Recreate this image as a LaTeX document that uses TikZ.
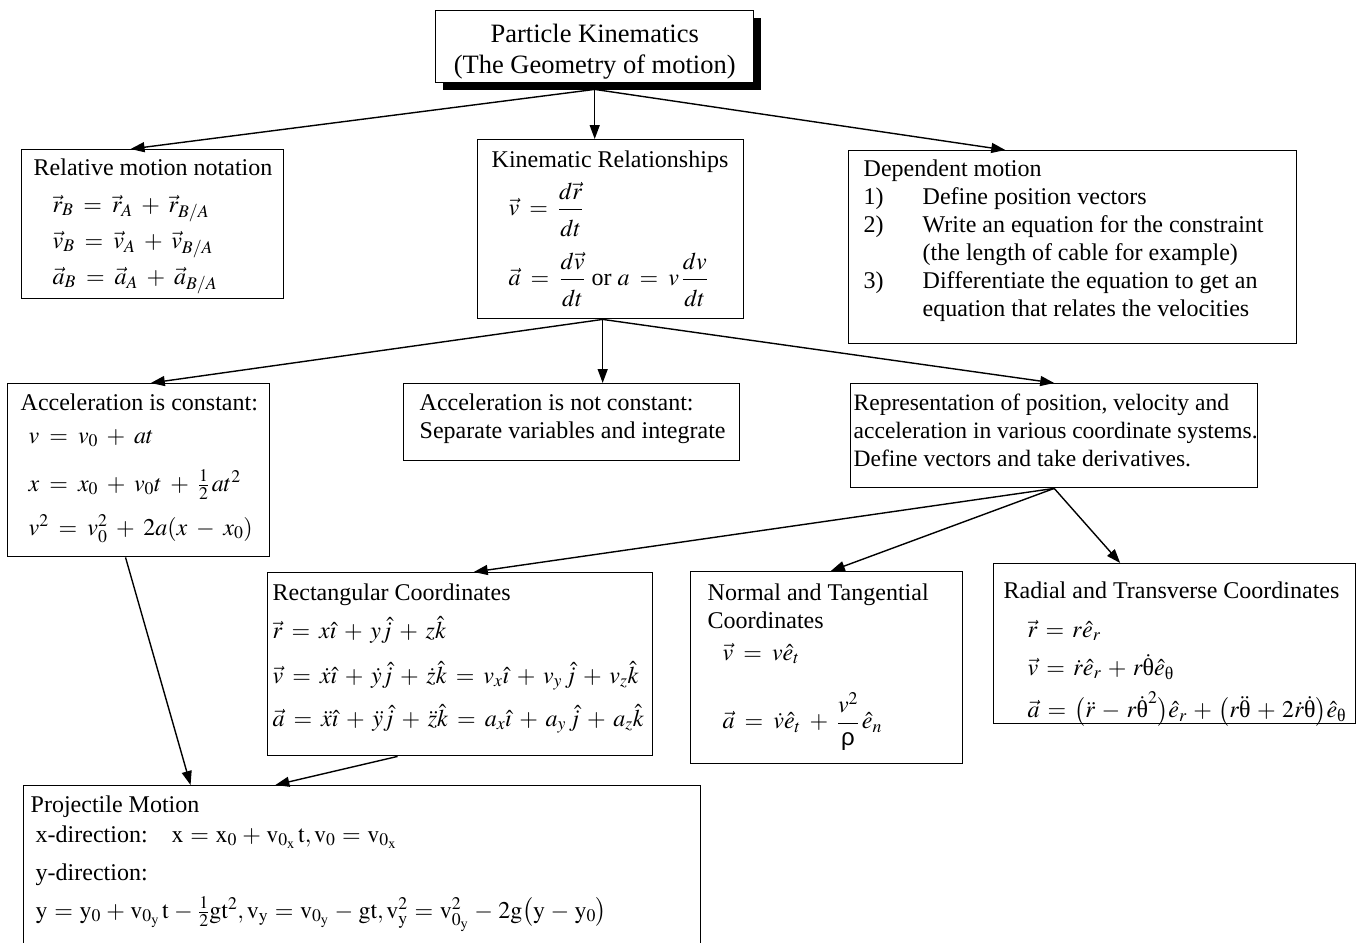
\documentclass[tikz,border=0pt]{standalone}
\usepackage{amsmath}
\usepackage{mathptmx}
\usepackage[no-math]{fontspec}
\setmainfont{Liberation Serif}
\newfontfamily\sansgr{Liberation Sans}
\usetikzlibrary{arrows.meta,calc,shadows}
\newcommand\uth{\text{θ}}
\newcommand\rhos{\text{\sansgr ρ}}
\newcommand\hj{\hat{j}}
\newcommand\ff[2]{\dfrac{#1}{\rule{0pt}{23pt}#2}}
\newcommand\tightmath{\medmuskip=5.7mu plus 2mu minus 4mu\thickmuskip=6.7mu plus 5mu}
\newcommand\tightermath{\medmuskip=4.8mu plus 2mu minus 4mu\thickmuskip=6mu plus 5mu}
\newcommand\bx[4]{\begin{minipage}[t][#2pt][t]{#1pt}\setlength\parindent{0pt}\fontsize{24}{28}\selectfont\medmuskip=6.5mu plus 2mu minus 4mu\thickmuskip=7.5mu plus 5mu\vspace*{#3pt}#4\end{minipage}}
\tikzset{
  box/.style={draw, line width=1.4pt, inner sep=0pt, anchor=north west, fill=white},
  arr/.style={line width=1.4pt, -{Triangle[length=14pt,width=10pt]}},
}
\begin{document}
\begin{tikzpicture}[x=1pt,y=-1pt]
\useasboundingbox (0,0) rectangle (1361,943);
\clip (0,0) rectangle (1361,943);
% top
\node[box, drop shadow={shadow xshift=7pt, shadow yshift=-7pt, fill=black, opacity=1}] (top) at (435,10)
 {\begin{minipage}[t][72pt][t]{318pt}\centering\fontsize{26.5}{31}\selectfont\vspace*{13pt}Particle Kinematics\\(The Geometry of motion)\end{minipage}};
% relative
\node[box] (rel) at (21,149) {\bx{262}{149}{9}{\hspace*{12pt}Relative motion notation\\[9pt]
 \hspace*{31pt}$\vec r_B = \vec r_A + \vec r_{B/A}$\\[8pt]
 \hspace*{31pt}$\vec v_B = \vec v_A + \vec v_{B/A}$\\[8pt]
 \hspace*{31pt}$\vec a_B = \vec a_A + \vec a_{B/A}$}};
% kinematic
\node[box] (kin) at (477,139) {\bx{266}{179}{11}{\hspace*{14pt}Kinematic Relationships\\[9pt]
 \hspace*{31pt}$\vec v = \ff{d\vec r}{dt}$\\[15pt]
 \hspace*{31pt}$\vec a = \ff{d\vec v}{dt}$ or $a = v\,\ff{dv}{dt}$}};
% dependent
\node[box] (dep) at (848,150) {\bx{448}{193}{9}{\hspace*{15pt}Dependent motion\\
 \hspace*{15pt}\makebox[59pt][l]{1)}Define position vectors\\
 \hspace*{15pt}\makebox[59pt][l]{2)}Write an equation for the constraint\\
 \hspace*{15pt}\makebox[59pt][l]{}(the length of cable for example)\\
 \hspace*{15pt}\makebox[59pt][l]{3)}Differentiate the equation to get an\\
 \hspace*{15pt}\makebox[59pt][l]{}equation that relates the velocities}};
% acceleration constant
\node[box] (acc) at (7,383) {\bx{262}{173}{10}{\hspace*{13pt}Acceleration is constant:\\[5pt]
 \hspace*{21pt}$v = v_0 + at$\\[20pt]
 \hspace*{21pt}$x = x_0 + v_0t + \tfrac{1}{2}\,at^2$\\[14pt]
 \hspace*{21pt}$v^2 = v_0^2 + 2a(x - x_0)$}};
% not constant
\node[box] (nac) at (403,383) {\bx{336}{77}{10}{\hspace*{16pt}Acceleration is not constant:\\
 \hspace*{16pt}Separate variables and integrate}};
% representation
\node[box] (rep) at (850,383) {\bx{407}{104}{10}{\fontsize{23.5}{28}\selectfont\hspace*{3pt}\mbox{Representation of position, velocity and}\\
 \hspace*{3pt}\mbox{acceleration in various coordinate systems.}\\
 \hspace*{3pt}\mbox{Define vectors and take derivatives.}}};
% rectangular
\node[box] (rect) at (267,572) {\bx{385}{183}{11}{\tightmath\hspace*{5pt}Rectangular Coordinates\\[10pt]
 \hspace*{5pt}$\vec r = x\hat\imath + y\hj + z\hat k$\\[17pt]
 \hspace*{5pt}$\vec v = \dot x\hat\imath + \dot y\hj + \dot z\hat k = v_x\hat\imath + v_y\,\hj + v_z\hat k$\\[13pt]
 \hspace*{5pt}$\vec a = \ddot x\hat\imath + \ddot y\hj + \ddot z\hat k = a_x\hat\imath + a_y\,\hj + a_z\hat k$}};
% normal tangential
\node[box] (nt) at (690,571) {\bx{272}{192}{12}{\hspace*{17pt}Normal and Tangential\\
 \hspace*{17pt}Coordinates\\[4pt]
 \hspace*{32pt}$\vec v = v\hat e_t$\\[27pt]
 \hspace*{32pt}$\vec a = \dot v\hat e_t + \dfrac{v^2}{\rhos}\,\hat e_n$}};
% radial
\node[box] (rad) at (993,563) {\bx{362}{160}{18}{\tightermath\hspace*{10pt}Radial and Transverse Coordinates\\[11pt]
 \hspace*{34pt}$\vec r = r\hat e_r$\\[10pt]
 \hspace*{34pt}$\vec v = \dot r\hat e_r + r\dot{\uth}\hat e_{\uth}$\\[11pt]
 \hspace*{34pt}$\vec a = \bigl(\ddot r - r\dot{\uth}^2\bigr)\hat e_r + \bigl(r\ddot{\uth} + 2\dot r\dot{\uth}\bigr)\hat e_{\uth}$}};
% projectile
\node[box] (proj) at (23,785) {\bx{677}{180}{10}{\medmuskip=4mu plus 2mu minus 4mu\thickmuskip=5mu plus 5mu
 \hspace*{7pt}Projectile Motion\\[2pt]
 \hspace*{12pt}x-direction:\quad $\mathrm{x = x_0 + v_{0_x}\,t, v_0 = v_{0_x}}$\\[10pt]
 \hspace*{12pt}y-direction:\\[10pt]
 \hspace*{12pt}$\mathrm{y = y_0 + v_{0_y}\,t - \tfrac{1}{2}gt^2, v_y = v_{0_y} - gt, v_y^2 = v_{0_y}^2 - 2g\bigl(y - y_0\bigr)}$}};
% connectors
\coordinate (tb) at ([yshift=-6pt]top.south);
\draw[arr] (tb) -- ($(rel.north west)!0.416!(rel.north east)$);
\draw[arr] (tb) -- (tb |- kin.north);
\draw[arr] (tb) -- ($(dep.north west)!0.35!(dep.north east)$);
\coordinate (kb) at ($(kin.south west)!0.47!(kin.south east)$);
\draw[arr] (kb) -- ($(acc.north west)!0.546!(acc.north east)$);
\draw[arr] (kb) -- (kb |- nac.north);
\draw[arr] (kb) -- (rep.north);
\coordinate (rb) at (rep.south);
\draw[arr] (rb) -- ($(rect.north west)!0.535!(rect.north east)$);
\draw[arr] (rb) -- ($(nt.north west)!0.515!(nt.north east)$);
\draw[arr] (rb) -- ($(rad.north west)!0.35!(rad.north east)$);
\draw[arr] ($(acc.south west)!0.45!(acc.south east)$) -- ($(proj.north west)!0.247!(proj.north east)$);
\draw[arr] ($(rect.south west)!0.338!(rect.south east)$) -- ($(proj.north west)!0.372!(proj.north east)$);
\end{tikzpicture}
\end{document}
